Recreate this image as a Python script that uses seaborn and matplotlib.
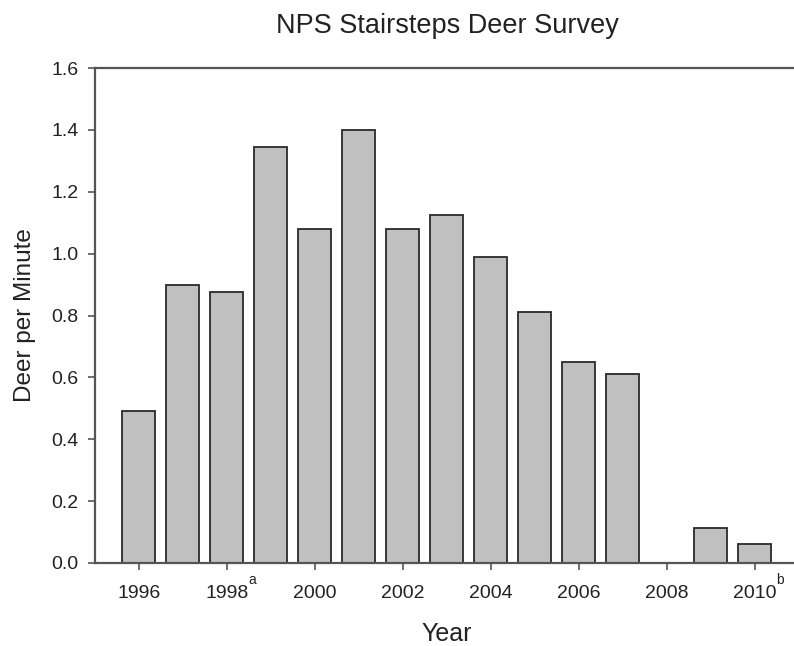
import matplotlib
matplotlib.use("Agg")
import matplotlib.pyplot as plt
import seaborn as sns
import pandas as pd
import numpy as np

years = [1996, 1997, 1998, 1999, 2000, 2001, 2002, 2003,
         2004, 2005, 2006, 2007, 2008, 2009, 2010]
deer_per_minute = [0.49, 0.90, 0.875, 1.345, 1.08, 1.40, 1.08, 1.125,
                   0.99, 0.81, 0.65, 0.61, 0.0, 0.113, 0.061]
yticks = [0.0, 0.2, 0.4, 0.6, 0.8, 1.0, 1.2, 1.4, 1.6]
footnotes = {1998: "a", 2010: "b"}

sns.set_style("ticks")
plt.rcParams["font.family"] = ["Liberation Sans", "DejaVu Sans"]

df = pd.DataFrame({"Year": years, "Deer": deer_per_minute})

fig = plt.figure(figsize=(7.94, 6.46), dpi=100)
ax = fig.add_axes([0.1196, 0.1285, 0.8866, 0.7662])

sns.barplot(data=df, x="Year", y="Deer", order=years, color="#c0c0c0",
            saturation=1, width=0.75, edgecolor="#2a2a2a", linewidth=1.3,
            ax=ax)

ax.set_xlim(-1, len(years))
ax.set_ylim(0, 1.6)
ax.set_yticks(yticks)
ax.set_yticklabels([f"{v:.1f}" for v in yticks])

pos = list(range(0, len(years), 2))
ax.set_xticks(pos)
ax.set_xticklabels([str(years[i]) for i in pos])

for spine in ax.spines.values():
    spine.set_color("#555555")
    spine.set_linewidth(1.6)
    spine.set_visible(True)

ax.tick_params(axis="both", direction="out", length=5, width=1.2,
               color="#555555", labelsize=14, labelcolor="#222222")
ax.tick_params(axis="x", pad=10.5)
ax.tick_params(axis="y", pad=7)

for yr, mark in footnotes.items():
    ax.annotate(mark, xy=(years.index(yr), 0), xycoords=("data", "axes fraction"),
                xytext=(18, -12), textcoords="offset points",
                fontsize=10, color="#222222", ha="center", va="center")

ax.set_xlabel("Year", fontsize=18, color="#222222", labelpad=15)
ax.set_ylabel("Deer per Minute", fontsize=17.5, color="#222222", labelpad=11)
ax.set_title("NPS Stairsteps Deer Survey", fontsize=19.5, color="#222222", pad=25)

fig.savefig("out.png", dpi=100)
